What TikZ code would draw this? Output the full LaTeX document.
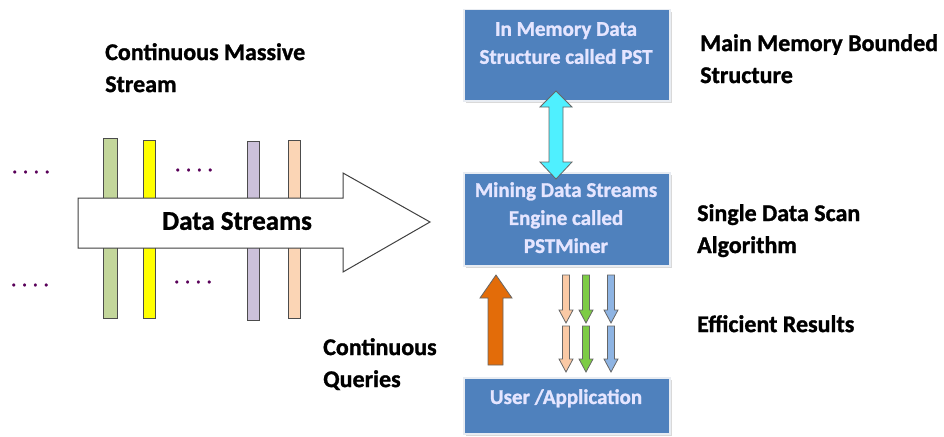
\documentclass[tikz,border=0pt]{standalone}
\usepackage{fontspec}
\setmainfont{Carlito}[BoldFont={Carlito Bold},BoldFeatures={FakeBold=1.2}]
\usetikzlibrary{shapes.arrows,shadows}
\definecolor{boxblue}{HTML}{4F81BD}
\definecolor{boxedge}{HTML}{E8ECF2}
\definecolor{cyanarr}{HTML}{4FF0FF}
\definecolor{orangearr}{HTML}{E36C09}
\definecolor{peach}{HTML}{FAC9A5}
\definecolor{greenarr}{HTML}{7DCC45}
\definecolor{bluearr}{HTML}{8EB4E3}
\definecolor{barGreen}{HTML}{C3D69B}
\definecolor{barYellow}{HTML}{FFFF00}
\definecolor{barPurple}{HTML}{CCC1DA}
\definecolor{barPeach}{HTML}{FBD5B5}
\begin{document}
\begin{tikzpicture}[x=1pt,y=-1pt,
  bluebox/.style={fill=boxblue,draw=boxedge,line width=1.5pt,
    drop shadow={shadow xshift=2pt,shadow yshift=-2pt,fill=black!25,opacity=0.6},
    anchor=north west,inner sep=0pt},
  boxtext/.style={text=white!90!blue,font=\bfseries\fontsize{21}{28}\selectfont,align=center,anchor=north,inner sep=0pt},
  lbl/.style={font=\bfseries\fontsize{24}{32}\selectfont,align=left,anchor=north west,inner sep=0pt,text=black},
  bar/.style={draw=black!70,line width=0.8pt},
  arrline/.style={draw=black!60,line width=0.8pt},
  dots/.style={font=\bfseries\fontsize{18}{20}\selectfont,text=blue!50!red!70!black,inner sep=0pt}
]
\useasboundingbox (0,0) rectangle (944,436);

% bars
\draw[bar,fill=barGreen] (103,138) rectangle (117,318);
\draw[bar,fill=barYellow] (143,140) rectangle (155,318);
\draw[bar,fill=barPurple] (247,141) rectangle (259,320);
\draw[bar,fill=barPeach] (288,140) rectangle (300,318);

% big arrow
\draw[draw=black!75,line width=1pt,fill=white] (78,198) -- (343,198) -- (343,173) -- (430,222) -- (343,272) -- (343,248) -- (78,248) -- cycle;
\node[font=\bfseries\fontsize{27}{30}\selectfont] (ds) at (237,221) {Data Streams};

% dots
\node[dots] (d1) at (31,172) {.\hspace{6pt}.\hspace{6pt}.\hspace{6pt}.};
\node[dots] (d2) at (30,285) {.\hspace{6pt}.\hspace{6pt}.\hspace{6pt}.};
\node[dots] (d3) at (194,170) {.\hspace{6pt}.\hspace{6pt}.\hspace{6pt}.};
\node[dots] (d4) at (193,282) {.\hspace{6pt}.\hspace{6pt}.\hspace{6pt}.};

% boxes
\node[bluebox,minimum width=206pt,minimum height=91pt] (top) at (463,9) {};
\node[boxtext] (toptext) at (566,22) {In Memory Data\\Structure called PST};
\node[bluebox,minimum width=206pt,minimum height=93pt] (mid) at (463,172) {};
\node[boxtext] (midtext) at (566,182) {Mining Data Streams\\Engine called\\PSTMiner};
\node[bluebox,minimum width=206pt,minimum height=56pt] (bot) at (463,377) {};
\node[boxtext] (bottext) at (566,389) {User /Application};

% cyan double arrow
\draw[arrline,fill=cyanarr] (556,91) -- (572,107) -- (563,107) -- (563,162) -- (572,162) -- (556,179) -- (540,162) -- (549,162) -- (549,107) -- (540,107) -- cycle;

% orange arrow
\draw[arrline,fill=orangearr] (496,275) -- (512,298) -- (503,298) -- (503,365) -- (488,365) -- (488,298) -- (480,298) -- cycle;

% small arrows
\foreach \x/\c in {566/peach,586/greenarr,611/bluearr}{
  \draw[arrline,fill=\c] (\x-3.5,275) -- (\x+3.5,275) -- (\x+3.5,310) -- (\x+7,310) -- (\x,323) -- (\x-7,310) -- (\x-3.5,310) -- cycle;
  \draw[arrline,fill=\c] (\x-3.5,326) -- (\x+3.5,326) -- (\x+3.5,359) -- (\x+7,359) -- (\x,372) -- (\x-7,359) -- (\x-3.5,359) -- cycle;
}

% labels
\node[lbl] (l1) at (105,43) {Continuous Massive\\Stream};
\node[lbl] (l2) at (700,34) {Main Memory Bounded\\Structure};
\node[lbl] (l3) at (697,204) {Single Data Scan\\Algorithm};
\node[lbl] (l4) at (697,315) {Efficient Results};
\node[lbl] (l5) at (323,338) {Continuous\\Queries};
\end{tikzpicture}
\end{document}
